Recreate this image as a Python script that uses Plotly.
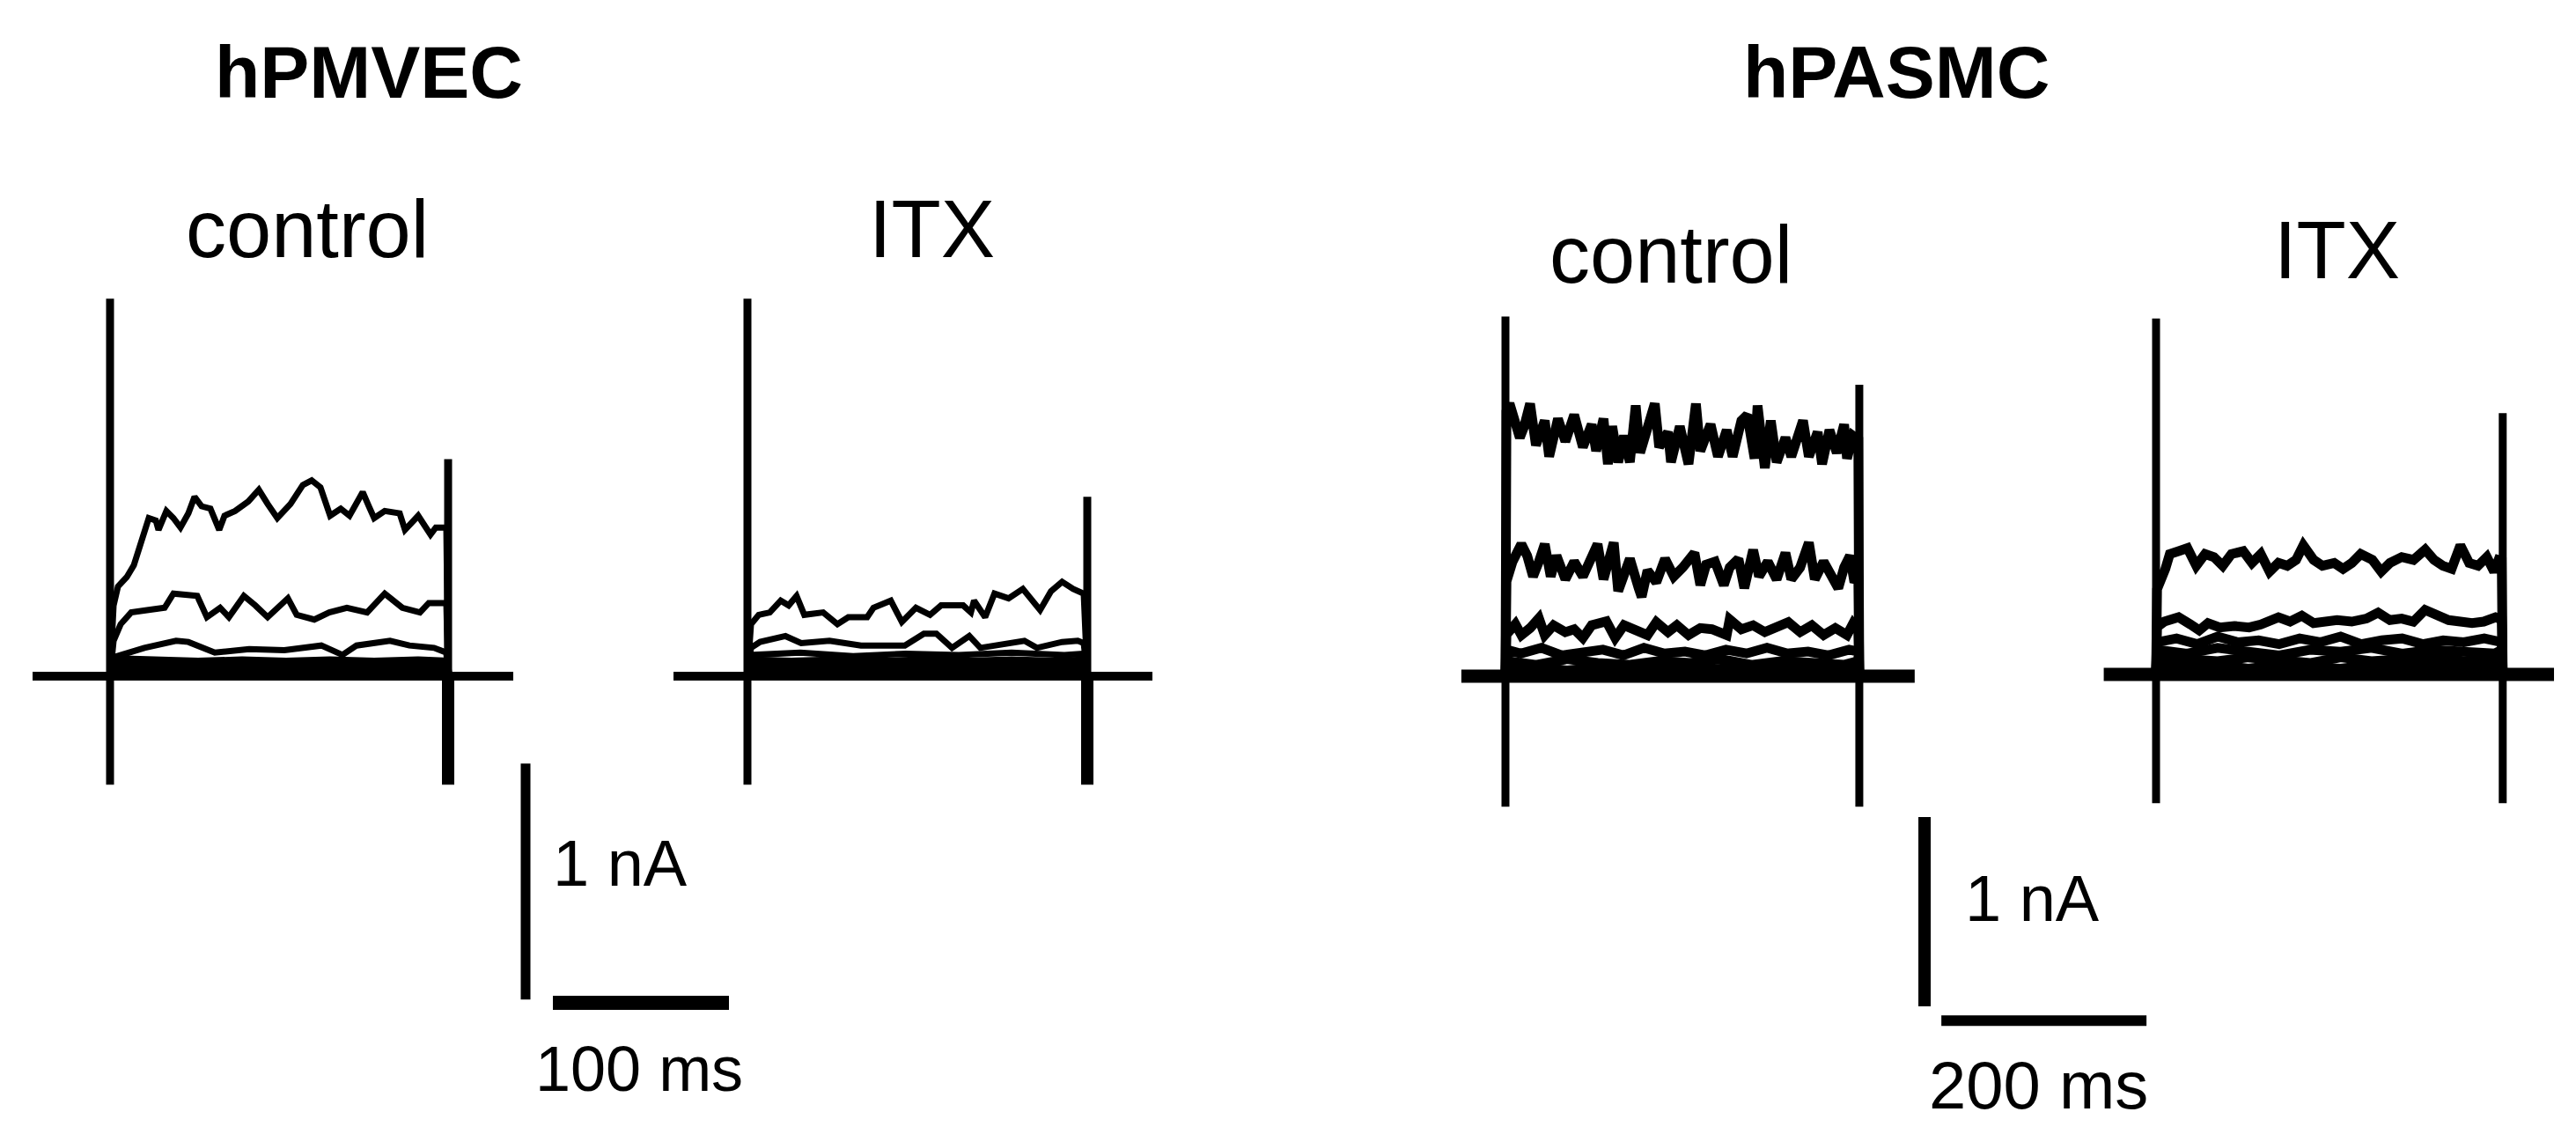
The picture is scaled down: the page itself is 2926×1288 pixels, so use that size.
import plotly.graph_objects as go

W, H = 2926, 1288
FONT = "Liberation Sans, Arial, Helvetica, sans-serif"

# ---- hPMVEC control (time in ms, current in nA) ----
P1_T_TOP = [2, 4.5, 9.5, 13.5, 17.5, 22, 26, 27.5, 32, 36, 40, 44.5, 48, 52, 57, 62, 65, 71, 78.5, 84.5,
            89.5, 95, 102.5, 109.5, 114.5, 119.5, 125, 131, 136, 143.5, 147, 150, 156, 164.5, 167.5, 175, 182, 185, 191]
P1_I_TOP = [0.30, 0.38, 0.42, 0.47, 0.56, 0.67, 0.66, 0.62, 0.70, 0.67, 0.63, 0.69, 0.76, 0.72, 0.71, 0.62, 0.68, 0.70, 0.74, 0.79,
            0.73, 0.67, 0.73, 0.81, 0.83, 0.80, 0.68, 0.71, 0.68, 0.78, 0.72, 0.67, 0.70, 0.69, 0.62, 0.68, 0.60, 0.63, 0.63]
P1_T_MID = [2, 6, 12, 21, 31, 36, 49.5, 55, 62.5, 67.5, 76, 82.5, 89.5, 101, 106, 116, 124.5, 134.5, 146, 156, 166, 176, 181, 191]
P1_I_MID = [0.15, 0.22, 0.27, 0.28, 0.29, 0.35, 0.34, 0.25, 0.29, 0.25, 0.34, 0.30, 0.25, 0.33, 0.26, 0.24, 0.27, 0.29, 0.27, 0.35, 0.29, 0.27, 0.31, 0.31]
P1_T_LOW = [2, 19.5, 37.5, 44.5, 59.5, 79, 99, 120, 132, 140, 159, 170, 184, 191]
P1_I_LOW = [0.08, 0.12, 0.15, 0.145, 0.10, 0.115, 0.11, 0.13, 0.09, 0.13, 0.15, 0.13, 0.12, 0.10]
P1_T_BAND = [2, 25, 50, 75, 100, 125, 150, 175, 191]
P1_I_BAND = [
    [0.07, 0.065, 0.06, 0.065, 0.06, 0.065, 0.06, 0.065, 0.06],
    [0.045, 0.05, 0.045, 0.045, 0.05, 0.045, 0.05, 0.045, 0.045],
    [0.025, 0.02, 0.025, 0.025, 0.02, 0.025, 0.025, 0.02, 0.025],
    [0.005, 0.01, 0.005, 0.01, 0.005, 0.01, 0.005, 0.01, 0.005],
]
P1_PULSE = [-44, 0, 192, 229]           # baseline start, step on, step off, baseline end
P1_SPIKES = [1.60, -0.46, 0.92, -0.46]   # on peak, on trough, off peak, off trough

# ---- hPMVEC ITX ----
P2_T_TOP = [2, 6.4, 12.7, 18.9, 23.4, 27.9, 32.3, 43.0, 51.1, 57.3, 68.0, 71.6, 81.4, 87.7, 95.7, 103.7, 110, 122.5,
            126.9, 128.7, 135, 140.3, 148.3, 156.4, 166.2, 172.4, 178.7, 185, 191]
P2_I_TOP = [0.22, 0.26, 0.27, 0.32, 0.30, 0.34, 0.26, 0.27, 0.22, 0.25, 0.25, 0.29, 0.32, 0.23, 0.29, 0.26, 0.30, 0.30,
            0.27, 0.32, 0.25, 0.35, 0.33, 0.37, 0.28, 0.36, 0.40, 0.37, 0.35]
P2_T_MID = [2, 7.2, 21.6, 30.5, 46.6, 64.5, 89.4, 100.2, 107.3, 116.2, 126, 132.3, 157.3, 164.4, 178.7, 187.6, 191]
P2_I_MID = [0.12, 0.145, 0.17, 0.14, 0.15, 0.13, 0.13, 0.18, 0.18, 0.12, 0.17, 0.12, 0.15, 0.12, 0.145, 0.15, 0.14]
P2_T_LOW = [2, 30, 60, 90, 120, 150, 180, 191]
P2_I_LOW = [0.09, 0.10, 0.085, 0.095, 0.09, 0.10, 0.09, 0.095]
P2_T_BAND = [2, 25, 50, 75, 100, 125, 150, 175, 191]
P2_I_BAND = [
    [0.065, 0.06, 0.065, 0.06, 0.065, 0.06, 0.065, 0.06, 0.065],
    [0.04, 0.045, 0.04, 0.04, 0.045, 0.04, 0.045, 0.04, 0.04],
    [0.02, 0.015, 0.02, 0.02, 0.015, 0.02, 0.02, 0.015, 0.02],
    [0.005, 0.0, 0.005, 0.005, 0.0, 0.005, 0.005, 0.0, 0.005],
]
P2_PULSE = [-42, 0, 193, 230]
P2_SPIKES = [1.60, -0.46, 0.76, -0.46]

# ---- hPASMC control ----
P3_T_TOP = [1, 4.0, 14.0, 18.3, 24.0, 29.7, 38.3, 42.6, 51.2, 58.4, 67.0, 75.5, 84.1, 88.4, 95.6, 99.9, 104.1, 109.9,
            115.6, 121.3, 127.0, 131.3, 138.5, 145.6, 149.9, 158.5, 161.4, 170.0, 178.5, 185.7, 190.0, 200.0, 207.2,
            215.7, 221.5, 230.0, 235.8, 242.9, 245.8, 252.9, 258.7, 264.4, 273.0, 278.7, 290.1, 295.8, 304.4, 308.7,
            315.9, 323.0, 330.2, 333.0, 338.8, 344]
P3_I_TOP = [1.40, 1.44, 1.26, 1.32, 1.44, 1.22, 1.35, 1.16, 1.36, 1.24, 1.38, 1.21, 1.33, 1.19, 1.36, 1.12, 1.32, 1.13,
            1.27, 1.13, 1.43, 1.18, 1.32, 1.44, 1.21, 1.29, 1.13, 1.32, 1.12, 1.44, 1.19, 1.33, 1.16,
            1.30, 1.16, 1.35, 1.38, 1.15, 1.43, 1.10, 1.35, 1.13, 1.26, 1.16, 1.35, 1.16, 1.29, 1.12,
            1.30, 1.18, 1.33, 1.15, 1.27, 1.25]
P3_T_MID = [1, 6.9, 15.5, 21.2, 26.9, 32.6, 38.3, 44.1, 49.8, 58.4, 67.0, 75.5, 84.1, 89.8, 95.6, 101.3, 105.6, 109.9,
            115.6, 121.3, 129.9, 132.8, 138.5, 147.1, 155.6, 164.2, 172.8, 184.3, 190.0, 195.7, 204.3, 212.9, 218.6,
            227.2, 232.9, 241.5, 247.2, 255.8, 264.4, 273.0, 278.7, 287.3, 295.8, 301.6, 310.2, 318.7, 324.5, 330.2,
            335.9, 340.2, 344]
P3_I_MID = [0.50, 0.605, 0.698, 0.636, 0.527, 0.605, 0.698, 0.527, 0.636, 0.512, 0.605, 0.527, 0.651, 0.698, 0.512,
            0.605, 0.706, 0.450, 0.543, 0.620, 0.465, 0.419, 0.558, 0.496, 0.620, 0.527, 0.574, 0.651, 0.481, 0.589,
            0.605, 0.481, 0.574, 0.620, 0.465, 0.667, 0.527, 0.605, 0.512, 0.651, 0.512, 0.574, 0.706, 0.512, 0.605,
            0.512, 0.465, 0.574, 0.636, 0.496, 0.53]
P3_T_LOW = [1, 9.7, 15.5, 24.0, 32.6, 38.3, 46.9, 58.4, 67.0, 75.5, 84.1, 98.4, 107.0, 115.6, 127.0, 138.5, 147.1,
            158.5, 167.1, 178.5, 190.0, 201.4, 215.7, 218.6, 230.0, 241.5, 252.9, 264.4, 275.8, 287.3, 298.7,
            310.2, 321.6, 333.0, 338.8, 344]
P3_I_LOW = [0.22, 0.275, 0.217, 0.254, 0.306, 0.217, 0.269, 0.233, 0.248, 0.202, 0.269, 0.290, 0.202, 0.269, 0.248,
            0.217, 0.285, 0.233, 0.269, 0.217, 0.254, 0.248, 0.217, 0.300, 0.248, 0.269, 0.233, 0.254, 0.285,
            0.233, 0.269, 0.217, 0.254, 0.217, 0.277, 0.24]
P3_T_FOURTH = [1, 15, 35, 55, 75, 95, 115, 135, 155, 175, 195, 215, 235, 255, 275, 295, 315, 335, 344]
P3_I_FOURTH = [0.14, 0.12, 0.15, 0.11, 0.13, 0.14, 0.11, 0.15, 0.12, 0.13, 0.11, 0.14, 0.12, 0.15, 0.12, 0.13, 0.11, 0.14, 0.13]
P3_T_BAND = [1, 30, 60, 90, 120, 150, 180, 210, 240, 270, 300, 330, 344]
P3_I_BAND = [
    [0.08, 0.06, 0.09, 0.07, 0.06, 0.08, 0.07, 0.09, 0.06, 0.08, 0.07, 0.06, 0.08],
    [0.04, 0.05, 0.03, 0.045, 0.035, 0.05, 0.03, 0.04, 0.05, 0.035, 0.045, 0.04, 0.03],
    [0.015, 0.005, 0.02, 0.01, 0.02, 0.0, 0.015, 0.01, 0.02, 0.005, 0.015, 0.02, 0.01],
]
P3_PULSE = [-43, 0, 345, 399]
P3_SPIKES = [1.90, -0.69, 1.54, -0.69]

# ---- hPASMC ITX ----
P4_T_TOP = [1, 9.1, 13.4, 22.0, 30.6, 39.2, 47.8, 56.4, 65.0, 73.5, 85.0, 93.5, 102.1, 110.7, 119.3, 127.9, 136.5,
            143.6, 153.6, 162.2, 173.7, 182.3, 190.9, 199.5, 210.9, 219.5, 228.1, 239.5, 251.0, 262.4, 271.0,
            279.6, 288.2, 296.7, 305.3, 313.9, 322.5, 329.6, 333.9, 337]
P4_I_TOP = [0.45, 0.558, 0.636, 0.651, 0.667, 0.574, 0.636, 0.620, 0.574, 0.636, 0.651, 0.589, 0.636, 0.543, 0.589,
            0.574, 0.605, 0.682, 0.605, 0.574, 0.589, 0.558, 0.589, 0.636, 0.605, 0.543, 0.589, 0.620, 0.605,
            0.659, 0.605, 0.574, 0.558, 0.682, 0.589, 0.574, 0.620, 0.543, 0.605, 0.60]
P4_T_MID = [1, 8.0, 22.0, 33.5, 42.1, 50.6, 62.1, 76.4, 90.7, 102.1, 119.3, 130.7, 142.1, 153.6, 165.0, 176.5, 190.8,
            205.1, 216.5, 228.0, 239.5, 250.9, 262.3, 273.8, 285.2, 296.7, 308.1, 319.5, 331.0, 337]
P4_I_MID = [0.25, 0.279, 0.302, 0.264, 0.233, 0.271, 0.248, 0.256, 0.248, 0.264, 0.302, 0.279, 0.310, 0.271, 0.279,
            0.287, 0.279, 0.295, 0.326, 0.287, 0.295, 0.279, 0.341, 0.310, 0.287, 0.279, 0.271, 0.279, 0.302, 0.29]
P4_T_LOW = [1, 20, 40, 60, 80, 100, 120, 140, 160, 180, 200, 220, 240, 260, 280, 300, 320, 337]
P4_I_LOW = [0.17, 0.19, 0.16, 0.20, 0.17, 0.18, 0.16, 0.19, 0.17, 0.20, 0.16, 0.18, 0.19, 0.16, 0.18, 0.17, 0.19, 0.17]
P4_T_BAND = [1, 30, 60, 90, 120, 150, 180, 210, 240, 270, 300, 330, 337]
P4_I_BAND = [
    [0.13, 0.11, 0.14, 0.12, 0.10, 0.13, 0.12, 0.14, 0.11, 0.13, 0.12, 0.11, 0.13],
    [0.09, 0.08, 0.07, 0.09, 0.08, 0.06, 0.09, 0.07, 0.08, 0.09, 0.07, 0.08, 0.08],
    [0.05, 0.04, 0.05, 0.03, 0.05, 0.04, 0.03, 0.05, 0.04, 0.05, 0.03, 0.04, 0.05],
    [0.02, 0.01, 0.02, 0.0, 0.02, 0.01, 0.02, 0.0, 0.01, 0.02, 0.0, 0.01, 0.02],
]
P4_PULSE = [-51, 0, 338, 388]
P4_SPIKES = [1.88, -0.68, 1.38, -0.68]

SCALE_NA = 1
SCALE_MS_PMVEC = 100
SCALE_MS_PASMC = 200

# pixel anchors of each panel: x of step onset, y of zero current, px per ms, px per nA
PANELS = [
    dict(t0=117, base=760, sx=2.0, sy=268),
    dict(t0=841, base=760, sx=2.0, sy=268),
    dict(t0=1702, base=760, sx=1.165, sy=215),
    dict(t0=2441, base=758, sx=1.165, sy=215),
]

fig = go.Figure()


def line(k, x, y, width, color="black"):
    fig.add_trace(go.Scatter(
        x=x, y=y, mode="lines", xaxis=f"x{k}", yaxis=f"y{k}",
        line={"color": color, "width": width}, hoverinfo="skip", showlegend=False,
    ))


def panel(k, pulse, spikes, sweeps, band, width, band_width, base_width):
    start, on, off, end = pulse
    line(k, [start, end], [0, 0], base_width)
    t_band, bands = band
    for vals in bands:
        line(k, [on] + t_band + [off], [0] + vals + [0], band_width)
    for t, i in sweeps:
        line(k, [on] + t + [off], [0] + i + [0], width)
    on_pk, on_tr, off_pk, off_tr = spikes
    line(k, [on, on], [on_pk, on_tr], 9)
    line(k, [off, off], [off_pk, 0], 9)
    line(k, [off, off], [0, off_tr], 14 if k <= 2 else 9)


panel(1, P1_PULSE, P1_SPIKES,
      [(P1_T_TOP, P1_I_TOP), (P1_T_MID, P1_I_MID), (P1_T_LOW, P1_I_LOW)],
      (P1_T_BAND, P1_I_BAND), 7, 10, 10)
panel(2, P2_PULSE, P2_SPIKES,
      [(P2_T_TOP, P2_I_TOP), (P2_T_MID, P2_I_MID), (P2_T_LOW, P2_I_LOW)],
      (P2_T_BAND, P2_I_BAND), 7, 10, 10)
panel(3, P3_PULSE, P3_SPIKES,
      [(P3_T_TOP, P3_I_TOP), (P3_T_MID, P3_I_MID), (P3_T_LOW, P3_I_LOW), (P3_T_FOURTH, P3_I_FOURTH)],
      (P3_T_BAND, P3_I_BAND), 11, 11, 15)
panel(4, P4_PULSE, P4_SPIKES,
      [(P4_T_TOP, P4_I_TOP), (P4_T_MID, P4_I_MID), (P4_T_LOW, P4_I_LOW)],
      (P4_T_BAND, P4_I_BAND), 11, 11, 15)

# scale bars (drawn in the units of the panel they belong to)
line(1, [236, 236], [-0.37, -0.37 - SCALE_NA], 11)
line(1, [251.5, 251.5 + SCALE_MS_PMVEC], [-1.384, -1.384], 16)
line(3, [408.6, 408.6], [-0.744, -0.744 - SCALE_NA], 14)
line(3, [425, 425 + SCALE_MS_PASMC], [-1.82, -1.82], 12)

layout = dict(
    width=W, height=H,
    margin={"l": 0, "r": 0, "t": 0, "b": 0},
    paper_bgcolor="white", plot_bgcolor="rgba(0,0,0,0)",
    showlegend=False,
)
for k, p in enumerate(PANELS, start=1):
    sfx = "" if k == 1 else str(k)
    layout[f"xaxis{sfx}"] = dict(
        domain=[0, 1], range=[-p["t0"] / p["sx"], (W - p["t0"]) / p["sx"]],
        visible=False, anchor=f"y{sfx}", fixedrange=True,
    )
    layout[f"yaxis{sfx}"] = dict(
        domain=[0, 1], range=[(p["base"] - H) / p["sy"], p["base"] / p["sy"]],
        visible=False, anchor=f"x{sfx}", fixedrange=True,
    )
fig.update_layout(**layout)

LABELS = [
    ("<b>hPMVEC</b>", 411, 74, 84),
    ("<b>hPASMC</b>", 2146, 74, 84),
    ("control", 341, 252, 92),
    ("ITX", 1050, 252, 92),
    ("control", 1890, 281, 92),
    ("ITX", 2646, 276, 92),
    ("1 nA", 696, 972, 74),
    ("100 ms", 718, 1206, 72),
    ("1 nA", 2300, 1012, 74),
    ("200 ms", 2307, 1224, 76),
]
for text, px, py, size in LABELS:
    fig.add_annotation(
        text=text, x=px / W, y=1 - py / H, xref="paper", yref="paper",
        xanchor="center", yanchor="middle", showarrow=False,
        font={"family": FONT, "size": size, "color": "black"},
    )

fig.write_html("out.html")
